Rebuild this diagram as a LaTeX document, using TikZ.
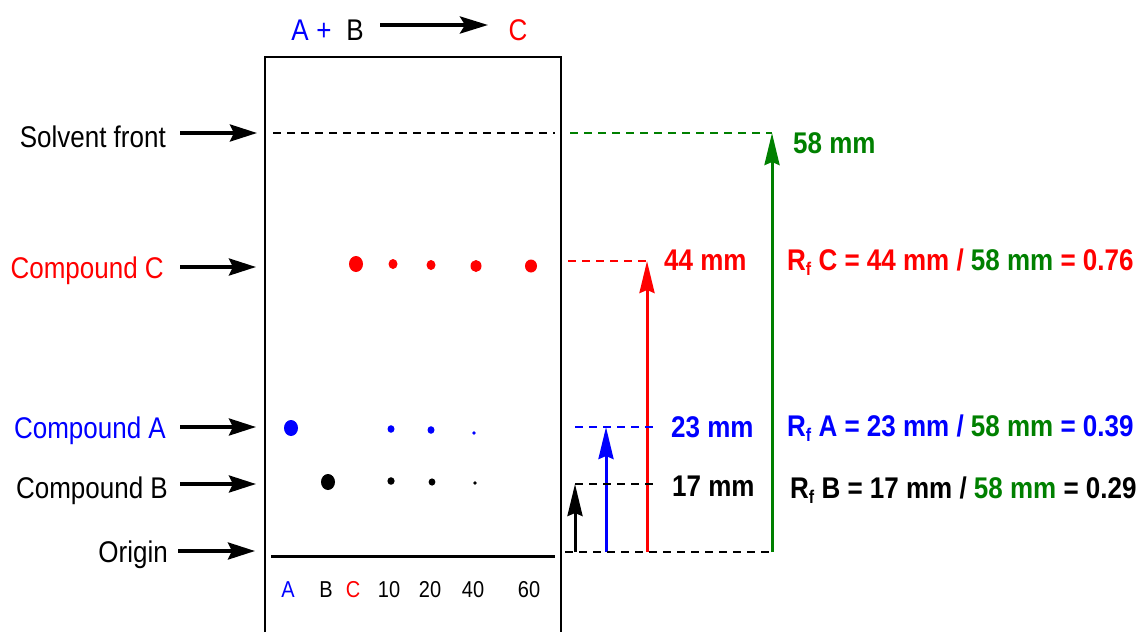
\documentclass[tikz,border=0pt]{standalone}
\usepackage{graphicx}
\usepackage{fontspec}
\setmainfont{Liberation Sans}
\definecolor{tlcblue}{RGB}{0,0,255}
\definecolor{tlcred}{RGB}{255,0,0}
\definecolor{tlcgreen}{RGB}{0,128,0}
\usetikzlibrary{arrows.meta}
\newcommand\Rf{R\raisebox{-0.35ex}{\fontsize{16}{16}\selectfont f}}
\newcommand\tall[1]{\scalebox{1}[1.15]{#1}}

\begin{document}
\begin{tikzpicture}[x=1pt,y=-1pt,
  lbl/.style={font=\fontsize{26}{30}\selectfont,inner sep=0pt,anchor=base east},
  lane/.style={font=\fontsize{20}{24}\selectfont,inner sep=0pt,anchor=base},
  top/.style={font=\fontsize{26}{30}\selectfont,inner sep=0pt,anchor=base},
  mm/.style={font=\fontsize{26}{30}\selectfont\bfseries,inner sep=0pt,anchor=base west},
  ptr/.style={line width=3.5pt,-{Stealth[length=27pt,width=17pt,inset=4pt]}},
  rise/.style={line width=3pt,-{Stealth[length=32pt,width=15pt,inset=3pt]}},
  guide/.style={line width=2.5pt,dash pattern=on 8pt off 6pt}
]
  \path[use as bounding box] (0,0) rectangle (1145,632);

  % reaction
  \node[top,tlcblue] (ra) at (300,40) {\tall{A}};
  \node[top,tlcblue] (rplus) at (324,40) {\tall{+}};
  \node[top] (rb) at (355,40) {\tall{B}};
  \node[top,tlcred] (rc) at (518,40) {\tall{C}};
  \coordinate (rfrom) at (380,25);
  \coordinate (rto) at (488,25);
  \draw[line width=4pt,-{Stealth[length=28pt,width=17pt,inset=5pt]}] (rfrom) -- (rto);

  % plate
  \draw[line width=2.5pt] (265,632) -- (265,57) -- (561,57) -- (561,632);
  \coordinate (fl) at (273,133);
  \coordinate (fr) at (555,133);
  \draw[guide] (fl) -- (fr);
  \coordinate (ol) at (271,556);
  \coordinate (or) at (555,556);
  \draw[line width=3pt] (ol) -- (or);

  % lane labels
  \node[lane,tlcblue] (la) at (288,597) {\tall{A}};
  \node[lane] (lb) at (326,597) {\tall{B}};
  \node[lane,tlcred] (lc) at (353,597) {\tall{C}};
  \node[lane] (l10) at (389,597) {\tall{10}};
  \node[lane] (l20) at (430,597) {\tall{20}};
  \node[lane] (l40) at (473,597) {\tall{40}};
  \node[lane] (l60) at (529,597) {\tall{60}};

  % spots
  \fill[tlcred] (356,264) ellipse [x radius=7pt,y radius=8pt];
  \fill[tlcred] (393,264) ellipse [x radius=4.5pt,y radius=5pt];
  \fill[tlcred] (431,265) ellipse [x radius=4.5pt,y radius=5pt];
  \fill[tlcred] (476,266) ellipse [x radius=5.5pt,y radius=6pt];
  \fill[tlcred] (531,266) ellipse [x radius=6pt,y radius=6.5pt];
  \fill[tlcblue] (291,428) ellipse [x radius=7pt,y radius=8pt];
  \fill[tlcblue] (391,429) ellipse [x radius=3.5pt,y radius=3.8pt];
  \fill[tlcblue] (431,430) ellipse [x radius=3.5pt,y radius=3.8pt];
  \fill[tlcblue] (474,433) circle [radius=1.8pt];
  \fill (328,482) ellipse [x radius=7pt,y radius=8pt];
  \fill (391,481) ellipse [x radius=3.6pt,y radius=3.8pt];
  \fill (432,482) ellipse [x radius=3.4pt,y radius=3.6pt];
  \fill (475,483) circle [radius=1.8pt];

  % left labels
  \node[lbl] (sf) at (166,147) {\tall{Solvent front}};
  \node[lbl,tlcred] (cc) at (164,278) {\tall{Compound C}};
  \node[lbl,tlcblue] (ca) at (166,438) {\tall{Compound A}};
  \node[lbl] (cb) at (168,498) {\tall{Compound B}};
  \node[lbl] (og) at (168,562) {\tall{Origin}};
  \coordinate (sft) at (180,133);  \coordinate (sfp) at (257,133);
  \coordinate (cct) at (180,267);  \coordinate (ccp) at (256,267);
  \coordinate (cat) at (180,427);  \coordinate (cap) at (256,427);
  \coordinate (cbt) at (180,484);  \coordinate (cbp) at (256,484);
  \coordinate (ogt) at (178,551);  \coordinate (ogp) at (255,551);
  \draw[ptr] (sft) -- (sfp);
  \draw[ptr] (cct) -- (ccp);
  \draw[ptr] (cat) -- (cap);
  \draw[ptr] (cbt) -- (cbp);
  \draw[ptr] (ogt) -- (ogp);

  % distances
  \coordinate (base0) at (565,552);
  \coordinate (gtop) at (772,133);
  \coordinate (gbot) at (772,552);
  \coordinate (gl) at (570,133);
  \draw[guide,tlcgreen] (gl) -- (gtop);
  \draw[rise,tlcgreen] (gbot) -- (gtop);
  \coordinate (rtop) at (647,261);
  \coordinate (rbot) at (647,552);
  \coordinate (rl) at (568,261);
  \draw[guide,tlcred] (rl) -- (rtop);
  \draw[rise,tlcred] (rbot) -- (rtop);
  \coordinate (btop) at (606,427);
  \coordinate (bbot) at (606,552);
  \coordinate (bl) at (575,427);
  \coordinate (br) at (655,427);
  \draw[guide,tlcblue] (bl) -- (br);
  \draw[rise,tlcblue] (bbot) -- (btop);
  \coordinate (ktop) at (575,484);
  \coordinate (kbot) at (575,552);
  \coordinate (kr) at (655,484);
  \draw[guide] (ktop) -- (kr);
  \draw[rise] (kbot) -- (ktop);
  \draw[guide] (base0) -- (gbot);

  \node[mm,tlcgreen] (d58) at (793,153) {\tall{58 mm}};
  \node[mm,tlcred] (d44) at (664,270) {\tall{44 mm}};
  \node[mm,tlcblue] (d23) at (671,437) {\tall{23 mm}};
  \node[mm] (d17) at (672,496) {\tall{17 mm}};

  % Rf values
  \node[mm,tlcred] (rfc) at (787,270) {\tall{\Rf{} C = 44 mm / \textcolor{tlcgreen}{58 mm} = 0.76}};
  \node[mm,tlcblue] (rfa) at (787,436) {\tall{\Rf{} A = 23 mm / \textcolor{tlcgreen}{58 mm} = 0.39}};
  \node[mm] (rfb) at (790,498) {\tall{\Rf{} B = 17 mm / \textcolor{tlcgreen}{58 mm} = 0.29}};
\end{tikzpicture}
\end{document}
